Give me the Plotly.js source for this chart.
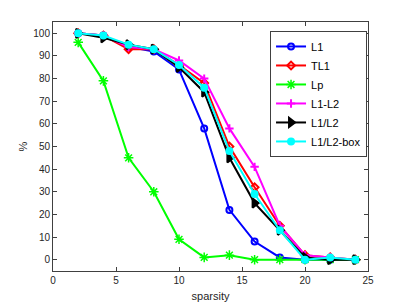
<!DOCTYPE html>
<html><head><meta charset="utf-8">
<script src="https://cdn.plot.ly/plotly-3.0.1.min.js"></script>
<style>html,body{margin:0;padding:0;background:#fff}</style>
</head><body>
<div id="chart" style="width:407px;height:305px"></div>
<script>
const sparsity = [2,4,6,8,10,12,14,16,18,20,22,24];
const seriesNames = ['L1','TL1','Lp','L1-L2','L1/L2','L1/L2-box'];
const L1     = [100,99,94,92,84,58,22,8,1,0,0,0];
const TL1    = [100,99,93,93,86,78,50,32,15,2,1,0];
const Lp     = [96,79,45,30,9,1,2,0,0,0,0,0];
const L1mL2  = [100,99,94,93,88,80,58,41,15,2,1,0];
const L1dL2  = [100,98,95,93,85,74,45,25,13,1,0,0];
const L1dL2box = [100,99,95,93,86,76,48,29,13,0,1,0];
const xTicks = [0,5,10,15,20,25];
const yTicks = [0,10,20,30,40,50,60,70,80,90,100];

const values = [L1,TL1,Lp,L1mL2,L1dL2,L1dL2box];
const colors = ['#0000ff','#ff0000','#00ff00','#ff00ff','#000000','#00ffff'];
const symbols = ['circle-open','diamond-open','asterisk-open','cross-thin-open','triangle-right','circle'];
const sizes = [6,6,8,6,8,6];
const mlw = [2,2,1.5,2,2,2];

const traces = values.map((v,i)=>({
  x: sparsity, y: v, name: seriesNames[i], type:'scatter', mode:'lines+markers',
  line:{color:colors[i], width:2},
  marker:{symbol:symbols[i], size:sizes[i], color:colors[i], line:{color:colors[i], width:mlw[i]}}
}));

const axisCommon = {
  showline:true, mirror:'ticks', linecolor:'#404040', linewidth:1,
  ticks:'inside', ticklen:4, tickcolor:'#404040', showgrid:false, zeroline:false,
  tickfont:{family:'Liberation Sans, Arial, sans-serif', size:10, color:'#262626'}
};

const layout = {
  width:407, height:305,
  margin:{l:53, r:39, t:22, b:34},
  paper_bgcolor:'#fff', plot_bgcolor:'#fff',
  showlegend:true,
  xaxis: Object.assign({}, axisCommon, {range:[0,25], tickvals:xTicks,
    title:{text:'sparsity', standoff:7, font:{family:'Liberation Sans, Arial, sans-serif', size:11, color:'#262626'}}}),
  yaxis: Object.assign({}, axisCommon, {range:[-5,105], tickvals:yTicks,
    title:{text:'%', standoff:3, font:{family:'Liberation Sans, Arial, sans-serif', size:11, color:'#262626'}}}),
  legend:{x:0.689, y:0.964, xanchor:'left', yanchor:'top', bgcolor:'#fff',
    bordercolor:'#404040', borderwidth:1,
    font:{family:'Liberation Sans, Arial, sans-serif', size:11, color:'#000'},
    tracegroupgap:0, itemwidth:30}
};

Plotly.newPlot('chart', traces, layout, {displayModeBar:false, staticPlot:true});
</script>
</body></html>
